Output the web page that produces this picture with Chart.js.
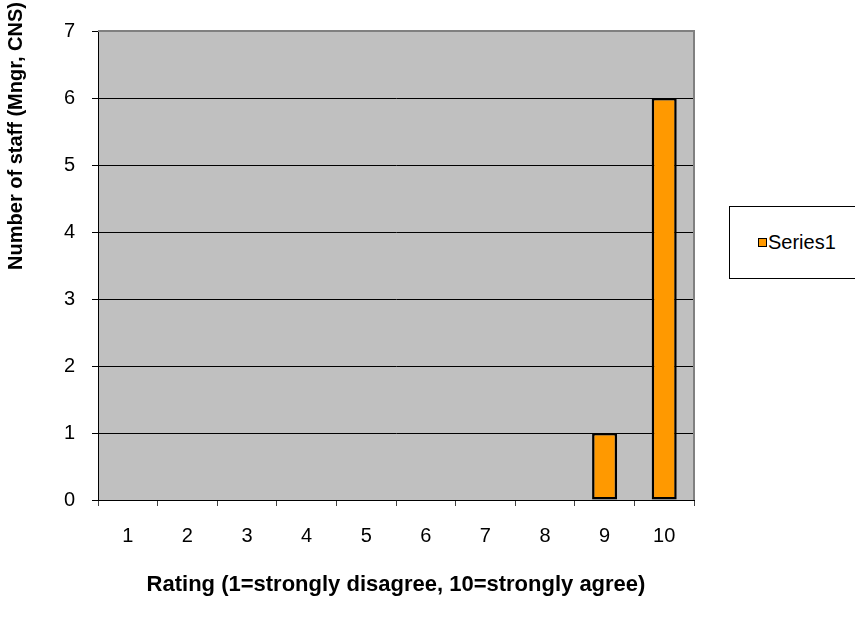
<!DOCTYPE html>
<html>
<head>
<meta charset="utf-8">
<script src="https://cdn.jsdelivr.net/npm/chart.js@4/dist/chart.umd.min.js"></script>
<style>
  body { margin: 0; background: #fff; }
  #wrap { position: relative; width: 855px; height: 627px; overflow: hidden; }
  #legend {
    position: absolute; left: 729px; top: 206px; width: 140px; height: 73px;
    border: 1px solid #000; background: #fff; box-sizing: border-box;
    font-family: "Liberation Sans", Arial, sans-serif; font-size: 20px;
    display: flex; align-items: center; padding-left: 28px;
  }
  #legend .box { width: 7px; height: 7px; border: 1.5px solid #000; margin-right: 1px; }
</style>
</head>
<body>
<div id="wrap">
  <canvas id="chart" width="855" height="627"></canvas>
  <div id="legend"></div>
</div>
<script>
// chart values
const ratings = ["1", "2", "3", "4", "5", "6", "7", "8", "9", "10"];
const staffCounts = [0, 0, 0, 0, 0, 0, 0, 0, 1, 6];
const seriesName = "Series1";
const xTitle = "Rating (1=strongly disagree, 10=strongly agree)";
const yTitle = "Number of staff (Mngr, CNS)";

const barColor = "#ff9900";
const fontFamily = "'Liberation Sans', Arial, sans-serif";

// grey plot background, grey frame on top/right, and the two axis titles
const plotDecor = {
  id: "plotDecor",
  beforeDraw(chart) {
    const { ctx, chartArea: a } = chart;
    ctx.save();
    ctx.fillStyle = "#c0c0c0";
    ctx.fillRect(a.left, a.top, a.right - a.left, a.bottom - a.top);
    ctx.restore();
  },
  afterDraw(chart) {
    const { ctx, chartArea: a } = chart;
    ctx.save();
    ctx.strokeStyle = "#808080";
    ctx.lineWidth = 2;
    ctx.beginPath();
    ctx.moveTo(a.left, a.top);
    ctx.lineTo(a.right, a.top);
    ctx.lineTo(a.right, a.bottom);
    ctx.stroke();

    ctx.fillStyle = "#000";
    ctx.textAlign = "center";
    ctx.textBaseline = "middle";
    ctx.font = "bold 22px " + fontFamily;
    ctx.fillText(xTitle, (a.left + a.right) / 2, 585);

    ctx.font = "bold 20px " + fontFamily;
    ctx.translate(16, 136);
    ctx.rotate(-Math.PI / 2);
    ctx.fillText(yTitle, 0, 0);
    ctx.restore();
  }
};

const chart = new Chart(document.getElementById("chart"), {
  type: "bar",
  data: {
    labels: ratings,
    datasets: [{
      label: seriesName,
      data: staffCounts,
      backgroundColor: barColor,
      borderColor: "#000",
      borderWidth: 2.5,
      borderSkipped: false,
      barPercentage: 0.42,
      categoryPercentage: 1
    }]
  },
  options: {
    responsive: false,
    animation: false,
    layout: { padding: { top: 31, right: 161, left: 0, bottom: 0 } },
    plugins: { legend: { display: false }, tooltip: { enabled: false } },
    scales: {
      x: {
        afterFit(scale) { scale.height = 127; },
        grid: { offset: true, drawOnChartArea: false, color: "#404040", tickLength: 6 },
        border: { color: "#000", width: 1 },
        ticks: { color: "#000", font: { family: fontFamily, size: 20 }, padding: 18, maxRotation: 0 }
      },
      y: {
        min: 0,
        max: 7,
        afterFit(scale) { scale.width = 98; },
        grid: { color: "#000", lineWidth: 1, tickLength: 6 },
        border: { color: "#000", width: 1 },
        ticks: { stepSize: 1, color: "#000", font: { family: fontFamily, size: 20 }, padding: 17 }
      }
    }
  },
  plugins: [plotDecor]
});

// legend in a framed box on the right
const ds = chart.data.datasets[0];
document.getElementById("legend").innerHTML =
  '<span class="box" style="background:' + ds.backgroundColor + '"></span>' + ds.label;
</script>
</body>
</html>
